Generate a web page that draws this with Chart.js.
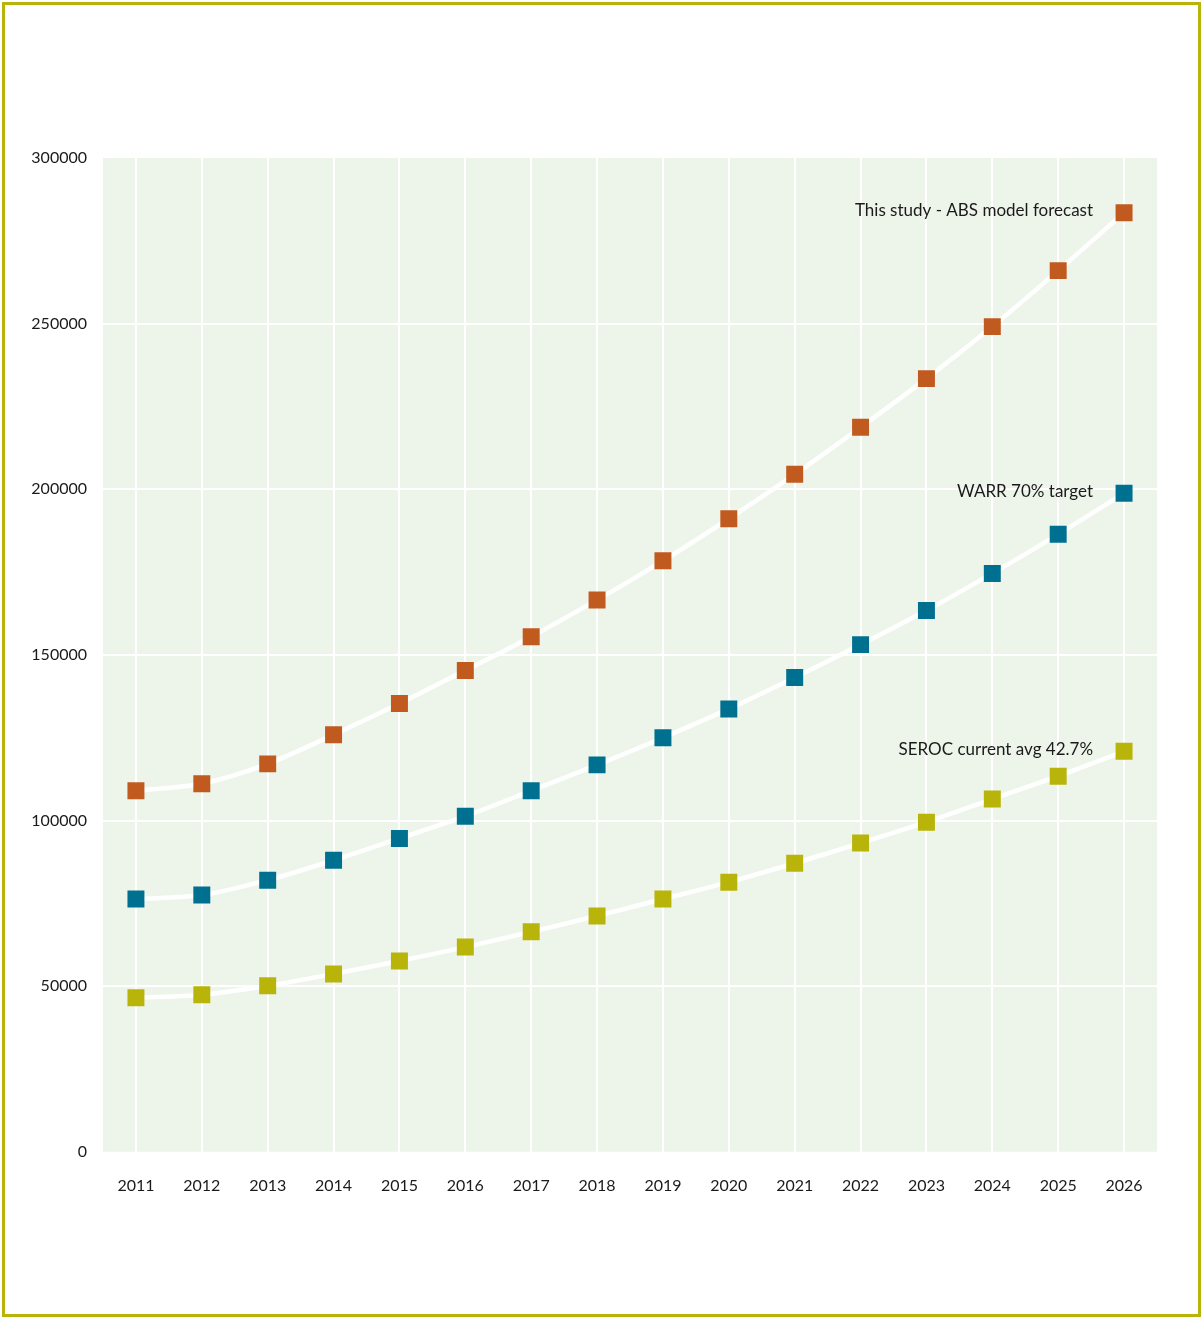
<!doctype html>
<html>
<head>
	<title>Forecast</title>
	<script src="https://cdn.jsdelivr.net/npm/chart.js@4/dist/chart.umd.min.js"></script>
	<style>
		body { margin: 0; background: #fff; }
		#frame { position: absolute; left: 2px; top: 2px; width: 1199px; height: 1315px; box-sizing: border-box; border: 3px solid #b8b40a; }
		#chart-area { position: absolute; left: 0; top: 0; }
	</style>
</head>

<body>
	<div id="frame"></div>
	<canvas id="chart-area" width="1202" height="1319" style="width:1202px;height:1319px"></canvas>
	<script>
		var years = ['2011', '2012', '2013', '2014', '2015', '2016', '2017', '2018',
			'2019', '2020', '2021', '2022', '2023', '2024', '2025', '2026'];

		var absForecast = [109000, 111100, 117100, 125900, 135300, 145300, 155500, 166600,
			178400, 191100, 204500, 218700, 233400, 249100, 266000, 283500];
		var warrTarget = [76300, 77500, 82000, 88000, 94600, 101300, 109000, 116800,
			125000, 133700, 143200, 153100, 163400, 174600, 186400, 198800];
		var serocAvg = [46500, 47400, 50100, 53700, 57600, 61800, 66400, 71200,
			76300, 81400, 87100, 93200, 99500, 106500, 113400, 120900];

		var seriesNames = ['This study - ABS model forecast', 'WARR 70% target', 'SEROC current avg 42.7%'];
		var yTicks = [0, 50000, 100000, 150000, 200000, 250000, 300000];

		var colors = {
			orange: '#c05a1f',
			blue: '#007090',
			olive: '#b8b40a',
			panel: '#edf5ea'
		};

		function series(label, data, color) {
			return {
				label: label,
				data: data,
				borderColor: '#ffffff',
				borderWidth: 4.5,
				tension: 0.3,
				pointStyle: 'rect',
				pointRadius: 12,
				pointBackgroundColor: color,
				pointBorderWidth: 0,
				fill: false
			};
		}

		// green panel behind the plot
		var panelPlugin = {
			id: 'panel',
			beforeDraw: function(chart) {
				var a = chart.chartArea, ctx = chart.ctx;
				ctx.save();
				ctx.fillStyle = colors.panel;
				ctx.fillRect(a.left, a.top, a.right - a.left, a.bottom - a.top);
				ctx.restore();
			}
		};

		// series names left of the last marker
		var endLabels = {
			id: 'endLabels',
			afterDatasetsDraw: function(chart) {
				var ctx = chart.ctx;
				ctx.save();
				ctx.font = '17px Lato';
				ctx.fillStyle = '#1a1a1a';
				ctx.textAlign = 'right';
				ctx.textBaseline = 'middle';
				chart.data.datasets.forEach(function(ds, i) {
					var pts = chart.getDatasetMeta(i).data;
					var p = pts[pts.length - 1];
					ctx.fillText(ds.label, p.x - 31, p.y - 2);
				});
				ctx.restore();
			}
		};

		var config = {
			type: 'line',
			data: {
				labels: years,
				datasets: [
					series(seriesNames[0], absForecast, colors.orange),
					series(seriesNames[1], warrTarget, colors.blue),
					series(seriesNames[2], serocAvg, colors.olive)
				]
			},
			options: {
				responsive: false,
				animation: false,
				devicePixelRatio: 1,
				layout: { padding: { top: 158, bottom: 100, left: 0, right: 45 } },
				plugins: {
					legend: { display: false },
					tooltip: { enabled: false }
				},
				scales: {
					x: {
						offset: true,
						border: { display: false },
						grid: { color: '#ffffff', lineWidth: 2, drawTicks: false },
						ticks: { color: '#1a1a1a', font: { family: 'Lato', size: 16 }, padding: 24, maxRotation: 0 }
					},
					y: {
						min: 0,
						max: 300000,
						border: { display: false },
						afterFit: function(scale) { scale.width = 103; },
						afterBuildTicks: function(scale) {
							scale.ticks = yTicks.map(function(v) { return { value: v }; });
						},
						grid: {
							drawTicks: false,
							lineWidth: 2,
							color: function(c) {
								var v = c.tick ? c.tick.value : null;
								return (v === 0 || v === 300000) ? 'rgba(0,0,0,0)' : '#ffffff';
							}
						},
						ticks: {
							color: '#1a1a1a',
							font: { family: 'Lato', size: 16 },
							padding: 16,
							callback: function(v) { return String(v); }
						}
					}
				}
			},
			plugins: [panelPlugin, endLabels]
		};

		window.onload = function() {
			var ctx = document.getElementById('chart-area').getContext('2d');
			window.myLine = new Chart(ctx, config);
		};
	</script>
</body>

</html>
